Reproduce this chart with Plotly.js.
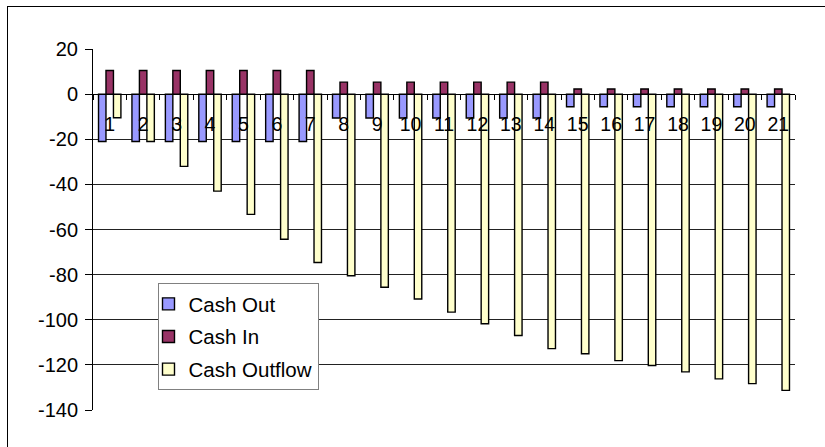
<!DOCTYPE html>
<html>
<head>
<meta charset="utf-8">
<script src="https://cdn.plot.ly/plotly-3.0.1.min.js"></script>
<style>
  html, body { margin: 0; padding: 0; background: #fff; overflow: hidden; }
  #wrap { position: relative; width: 825px; height: 447px; overflow: hidden; }
  #chart { width: 825px; height: 447px; }
  /* chart area frame (top and left edges) */
  #frame {
    position: absolute; left: 7px; top: 6px; width: 900px; height: 500px;
    border-top: 1.5px solid #000; border-left: 1.5px solid #000;
    pointer-events: none;
  }
</style>
</head>
<body>
<div id="wrap">
  <div id="chart"></div>
  <div id="frame"></div>
</div>
<script>
// Periods 1..21
var periods = ['1','2','3','4','5','6','7','8','9','10','11','12','13','14','15','16','17','18','19','20','21'];

var cashOut = [-21, -21, -21, -21, -21, -21, -21,
               -10.6, -10.6, -10.6, -10.6, -10.6, -10.6, -10.6,
               -5.6, -5.6, -5.6, -5.6, -5.6, -5.6, -5.6];

var cashIn = [10.5, 10.5, 10.5, 10.5, 10.5, 10.5, 10.5,
              5.3, 5.3, 5.3, 5.3, 5.3, 5.3, 5.3,
              2.3, 2.3, 2.3, 2.3, 2.3, 2.3, 2.3];

var cashOutflow = [-10.5, -21, -32, -43, -53.3, -64.3, -74.6,
                   -80.5, -85.6, -90.8, -96.6, -101.8, -107, -112.8,
                   -115.1, -118.1, -120.3, -123.1, -126.2, -128.3, -131.3];

// value axis ticks (plain hyphen minus signs)
var yTickVals = [20, 0, -20, -40, -60, -80, -100, -120, -140];
var yTickText = ['20', '0', '-20', '-40', '-60', '-80', '-100', '-120', '-140'];

var seriesNames = ['Cash Out', 'Cash In', 'Cash Outflow'];
var seriesColors = ['#9999FF', '#993366', '#FFFFCC'];
var yRange = [-140, 20];

var W = 825, H = 447;
var M = { l: 93, r: 30, t: 49, b: 37 };
var plotW = W - M.l - M.r, plotH = H - M.t - M.b;
function pxX(px) { return (px - M.l) / plotW; }
function pxY(py) { return (H - M.b - py) / plotH; }

var font = 'Arial, "Liberation Sans", sans-serif';

var traces = [cashOut, cashIn, cashOutflow].map(function (vals, i) {
  return {
    type: 'bar',
    name: seriesNames[i],
    x: periods,
    y: vals,
    legendgroup: 'g' + i,
    marker: { color: seriesColors[i], line: { color: '#000', width: 1.4 } },
    hoverinfo: 'x+y+name'
  };
});

var layout = {
  width: W,
  height: H,
  margin: { l: M.l, r: M.r, t: M.t, b: M.b, pad: 0 },
  paper_bgcolor: 'rgba(0,0,0,0)',
  plot_bgcolor: '#fff',
  font: { family: font, size: 19.5, color: '#000' },
  barmode: 'group',
  bargap: 0.33,
  bargroupgap: 0,
  showlegend: true,
  legend: {
    x: pxX(157.5),
    y: pxY(283),
    xanchor: 'left',
    yanchor: 'top',
    bgcolor: '#fff',
    bordercolor: '#808080',
    borderwidth: 1,
    indentation: -10,
    font: { family: font, size: 20.5, color: '#000' },
    traceorder: 'grouped',
    tracegroupgap: 3
  },
  xaxis: {
    type: 'category',
    anchor: 'free',
    position: (0 - yRange[0]) / (yRange[1] - yRange[0]),
    showline: true,
    linecolor: '#000',
    linewidth: 1,
    showgrid: false,
    zeroline: false,
    ticks: 'outside',
    tickson: 'boundaries',
    ticklen: 5,
    tickcolor: '#000',
    tickwidth: 1,
    ticklabelstandoff: 12,
    tickfont: { family: font, size: 19.5, color: '#000' }
  },
  yaxis: {
    range: yRange,
    tickmode: 'array',
    tickvals: yTickVals,
    ticktext: yTickText,
    showline: true,
    linecolor: '#000',
    linewidth: 1,
    showgrid: true,
    gridcolor: '#222',
    gridwidth: 1,
    zeroline: false,
    ticks: 'outside',
    ticklen: 7,
    tickcolor: '#000',
    tickwidth: 1,
    ticklabelstandoff: 3,
    tickfont: { family: font, size: 20, color: '#000' }
  }
};

Plotly.newPlot('chart', traces, layout, { displayModeBar: false, staticPlot: true });
</script>
</body>
</html>
